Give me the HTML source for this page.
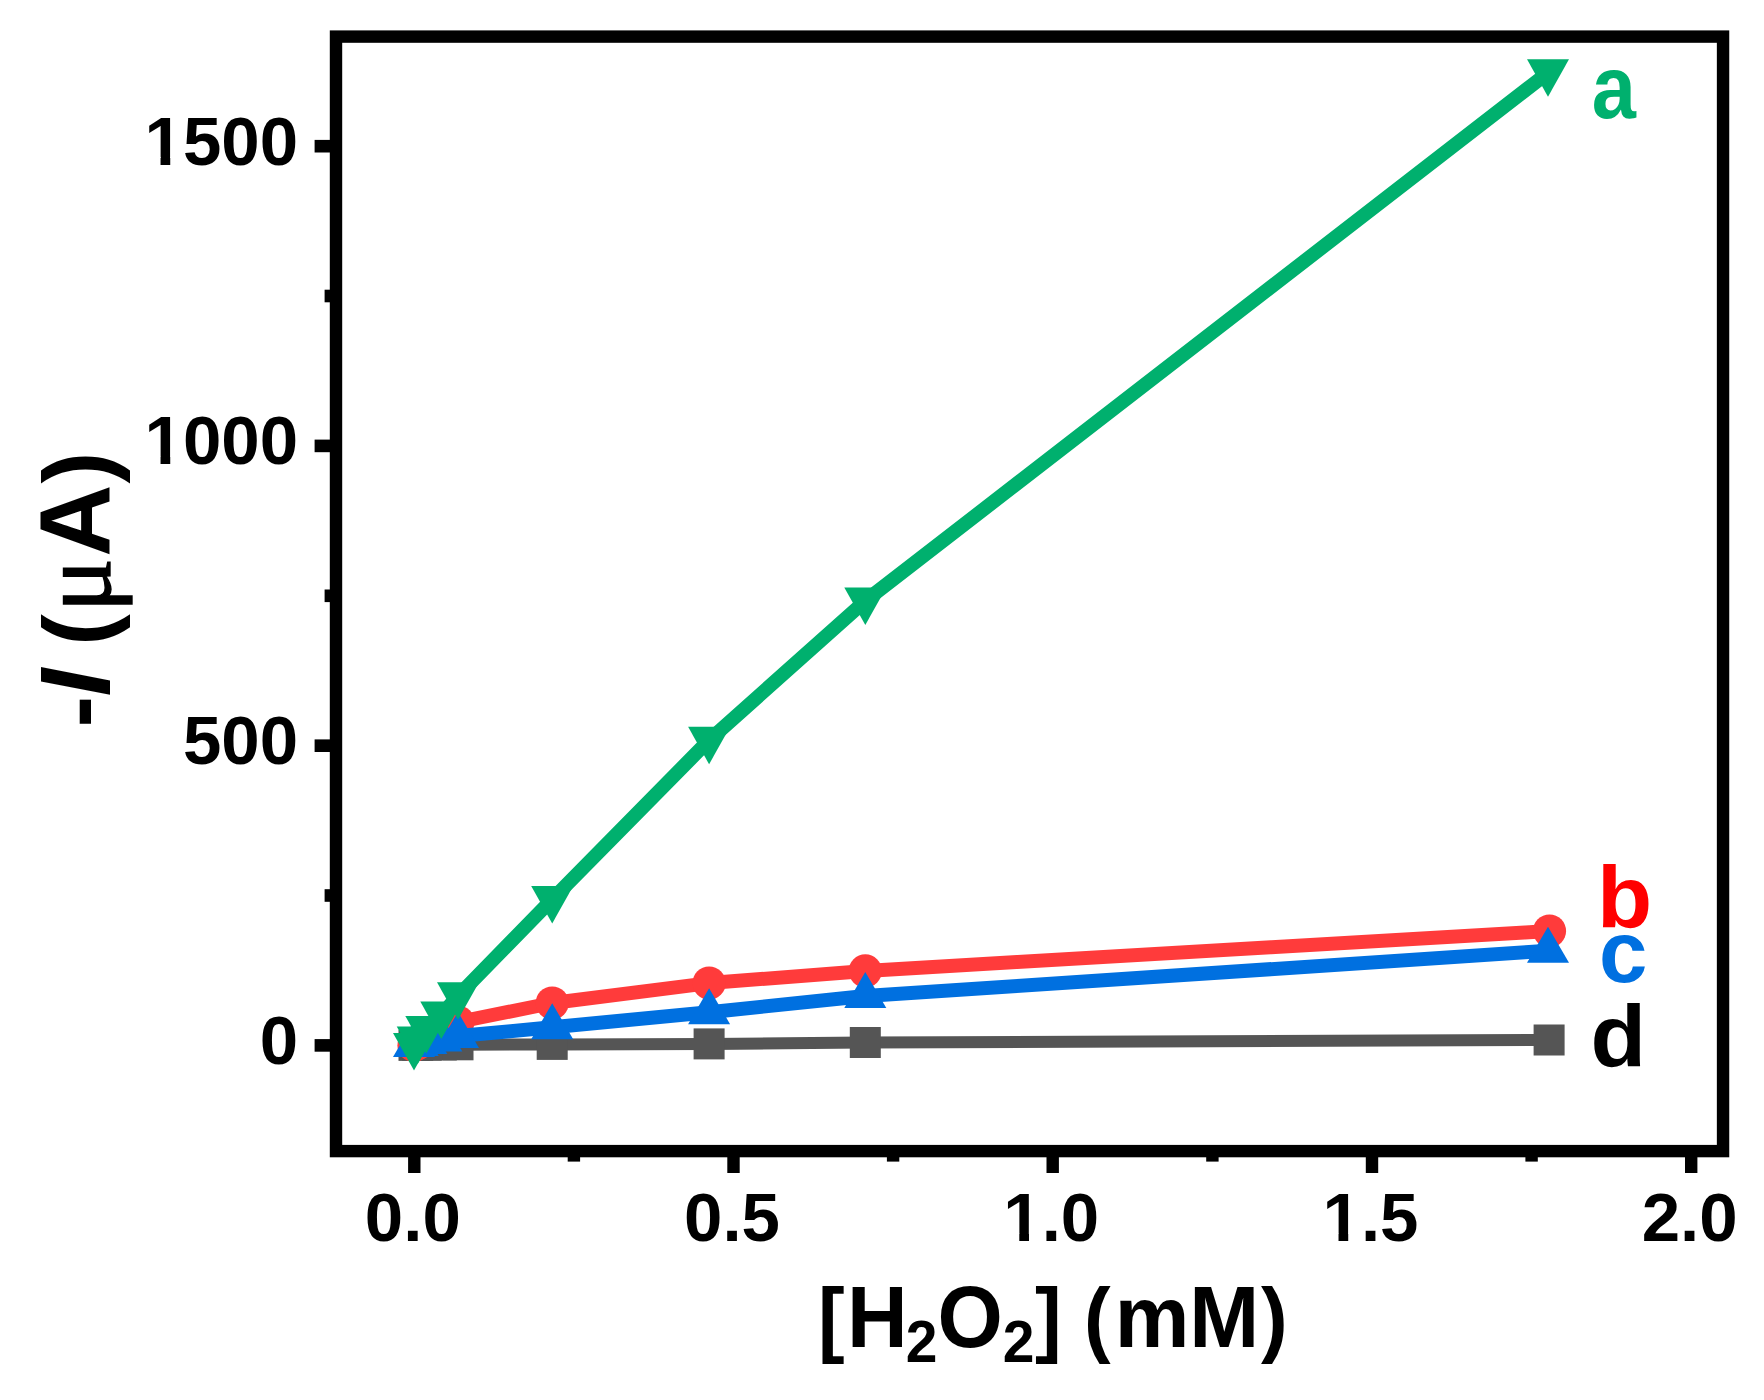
<!DOCTYPE html>
<html lang="en"><head><meta charset="utf-8"><title>-I vs [H2O2]</title>
<style>
html,body{margin:0;padding:0;background:#fff;}
body{width:1764px;height:1400px;overflow:hidden;}
svg{display:block;filter:blur(0.7px);}
text{font-family:"Liberation Sans",sans-serif;font-weight:bold;fill:#000;}
.tk{font-size:69px;}
.xl{font-size:84px;}
.sub{font-size:57px;}
.yl{font-size:95px;}
.sl{font-size:88px;}
</style></head><body>
<svg width="1764" height="1400" viewBox="0 0 1764 1400">
<rect x="0" y="0" width="1764" height="1400" fill="#fff"/>
<g fill="#555555" stroke="none"><polyline points="414.0,1045.4 417.7,1045.3 426.3,1045.2 441.3,1045.0 458.0,1044.8 552.2,1044.4 709.1,1043.9 865.3,1042.5 1549.1,1040.0" fill="none" stroke="#555555" stroke-width="12" stroke-linejoin="round"/>
<rect x="398.5" y="1029.9" width="31" height="31"/>
<rect x="402.2" y="1029.8" width="31" height="31"/>
<rect x="410.8" y="1029.7" width="31" height="31"/>
<rect x="425.8" y="1029.5" width="31" height="31"/>
<rect x="442.5" y="1029.3" width="31" height="31"/>
<rect x="536.7" y="1028.9" width="31" height="31"/>
<rect x="693.6" y="1028.4" width="31" height="31"/>
<rect x="849.8" y="1027.0" width="31" height="31"/>
<rect x="1533.6" y="1024.5" width="31" height="31"/>
</g>
<g fill="#FF3B3B" stroke="none"><polyline points="414.0,1045.4 417.7,1043.5 426.3,1039.0 441.3,1031.5 458.0,1022.0 552.2,1003.0 709.1,983.1 865.3,970.9 1549.5,931.0" fill="none" stroke="#FF3B3B" stroke-width="14" stroke-linejoin="round"/>
<circle cx="414.0" cy="1045.4" r="16.6"/>
<circle cx="417.7" cy="1043.5" r="16.6"/>
<circle cx="426.3" cy="1039.0" r="16.6"/>
<circle cx="441.3" cy="1031.5" r="16.6"/>
<circle cx="458.0" cy="1022.0" r="16.6"/>
<circle cx="552.2" cy="1003.0" r="16.6"/>
<circle cx="709.1" cy="983.1" r="16.6"/>
<circle cx="865.3" cy="970.9" r="16.6"/>
<circle cx="1549.5" cy="931.0" r="16.6"/>
</g>
<g fill="#0070E0" stroke="none"><polyline points="414.0,1045.0 417.7,1044.0 426.3,1042.0 441.3,1039.5 458.0,1036.0 552.2,1027.3 709.1,1012.2 865.3,996.0 1548.0,950.8" fill="none" stroke="#0070E0" stroke-width="14" stroke-linejoin="round"/>
<polygon points="393.0,1057.0 435.0,1057.0 414.0,1021.0"/>
<polygon points="396.7,1056.0 438.7,1056.0 417.7,1020.0"/>
<polygon points="405.3,1054.0 447.3,1054.0 426.3,1018.0"/>
<polygon points="420.3,1051.5 462.3,1051.5 441.3,1015.5"/>
<polygon points="437.0,1048.0 479.0,1048.0 458.0,1012.0"/>
<polygon points="531.2,1039.3 573.2,1039.3 552.2,1003.3"/>
<polygon points="688.1,1024.2 730.1,1024.2 709.1,988.2"/>
<polygon points="844.3,1008.0 886.3,1008.0 865.3,972.0"/>
<polygon points="1527.0,962.8 1569.0,962.8 1548.0,926.8"/>
</g>
<g fill="#00B06E" stroke="none"><polyline points="414.0,1046.4 417.7,1039.9 426.3,1029.6 441.3,1015.1 458.0,995.8 552.2,899.4 709.1,740.2 865.3,600.9 1548.0,72.7" fill="none" stroke="#00B06E" stroke-width="14" stroke-linejoin="round"/>
<polygon points="393.0,1032.9 435.0,1032.9 414.0,1070.4"/>
<polygon points="396.7,1026.4 438.7,1026.4 417.7,1063.9"/>
<polygon points="405.3,1016.1 447.3,1016.1 426.3,1053.6"/>
<polygon points="420.3,1001.6 462.3,1001.6 441.3,1039.1"/>
<polygon points="437.0,982.3 479.0,982.3 458.0,1019.8"/>
<polygon points="531.2,885.9 573.2,885.9 552.2,923.4"/>
<polygon points="688.1,726.7 730.1,726.7 709.1,764.2"/>
<polygon points="844.3,587.4 886.3,587.4 865.3,624.9"/>
<polygon points="1527.0,59.2 1569.0,59.2 1548.0,96.7"/>
</g>
<rect x="336" y="36.6" width="1387.05" height="1114.5" fill="none" stroke="#000" stroke-width="12.4"/>
<g fill="#000">
<rect x="314.6" y="1039.1" width="16" height="12.6"/>
<rect x="314.6" y="739.4" width="16" height="12.6"/>
<rect x="314.6" y="439.6" width="16" height="12.6"/>
<rect x="314.6" y="139.9" width="16" height="12.6"/>
<rect x="324.6" y="889.2" width="6" height="12.6"/>
<rect x="324.6" y="589.5" width="6" height="12.6"/>
<rect x="324.6" y="289.7" width="6" height="12.6"/>
<rect x="408.1" y="1156" width="12.4" height="17"/>
<rect x="727.3" y="1156" width="12.4" height="17"/>
<rect x="1046.5" y="1156" width="12.4" height="17"/>
<rect x="1365.8" y="1156" width="12.4" height="17"/>
<rect x="1685.0" y="1156" width="12.4" height="17"/>
<rect x="567.7" y="1156" width="12.4" height="5.6"/>
<rect x="886.9" y="1156" width="12.4" height="5.6"/>
<rect x="1206.2" y="1156" width="12.4" height="5.6"/>
<rect x="1525.4" y="1156" width="12.4" height="5.6"/>
</g>
<text class="tk" x="259.64" y="1063.9">0</text>
<text class="tk" x="182.91" y="764.2">500</text>
<text class="tk" x="144.54" y="464.4">1000</text><rect x="147.04" y="456.70" width="13.50" height="9" fill="#fff"/><rect x="170.24" y="456.70" width="12.50" height="9" fill="#fff"/>
<text class="tk" x="144.54" y="164.7">1500</text><rect x="147.04" y="156.95" width="13.50" height="9" fill="#fff"/><rect x="170.24" y="156.95" width="12.50" height="9" fill="#fff"/>
<text class="tk" x="364.85" y="1241.3">0.0</text>
<text class="tk" x="684.07" y="1241.3">0.5</text>
<text class="tk" x="1003.29" y="1241.3">1.0</text><rect x="1005.79" y="1233.60" width="13.50" height="9" fill="#fff"/><rect x="1028.99" y="1233.60" width="12.50" height="9" fill="#fff"/>
<text class="tk" x="1322.52" y="1241.3">1.5</text><rect x="1325.02" y="1233.60" width="13.50" height="9" fill="#fff"/><rect x="1348.22" y="1233.60" width="12.50" height="9" fill="#fff"/>
<text class="tk" x="1641.75" y="1241.3">2.0</text>
<text class="xl" transform="translate(0,1347.3) scale(1,1.045)"><tspan x="818.02" dy="-0.70" style="font-size:80px">[</tspan><tspan x="847.05" dy="0.70" style="font-size:84px">H</tspan><tspan x="905.70" dy="13.60" style="font-size:57px">2</tspan><tspan x="937.53" dy="-13.60" style="font-size:84px">O</tspan><tspan x="1002.80" dy="13.60" style="font-size:57px">2</tspan><tspan x="1035.07" dy="-14.30" style="font-size:80px">] </tspan><tspan x="1083.92" dy="0.00" style="font-size:80px">(</tspan><tspan x="1114.65" dy="0.70" style="font-size:84px">m</tspan><tspan x="1189.17" dy="0.00" style="font-size:84px">M</tspan><tspan x="1260.95" dy="-0.70" style="font-size:80px">)</tspan></text>
<text class="yl" transform="translate(110,725) rotate(-90)"><tspan x="-2.60" dy="0.00" style="font-size:95px;">-</tspan><tspan x="28.42" dy="0.00" style="font-size:100px;font-style:italic;">I </tspan><tspan x="79.22" dy="-0.50" style="font-size:95px;">(</tspan><tspan x="112.82" dy="0.50" style="font-size:101px;font-family:'Liberation Serif','DejaVu Serif',serif;font-weight:normal;stroke:#000;stroke-width:1.4px;">μ</tspan><tspan x="168.35" dy="0.00" style="font-size:100px;">A</tspan><tspan x="241.47" dy="-0.50" style="font-size:95px;">)</tspan></text>
<g><text transform="translate(1591.82,117.64) scale(0.903,1.019)" style="font-size:88px;fill:#00B06E;">a</text><text transform="translate(1596.90,926.95) scale(1.026,0.997)" style="font-size:88px;fill:#FF0000;">b</text><text transform="translate(1599.04,982.26) scale(0.989,0.992)" style="font-size:88px;fill:#0070E0;">c</text><text transform="translate(1590.58,1065.76) scale(1.034,0.983)" style="font-size:88px;fill:#000;">d</text></g>
</svg></body></html>
